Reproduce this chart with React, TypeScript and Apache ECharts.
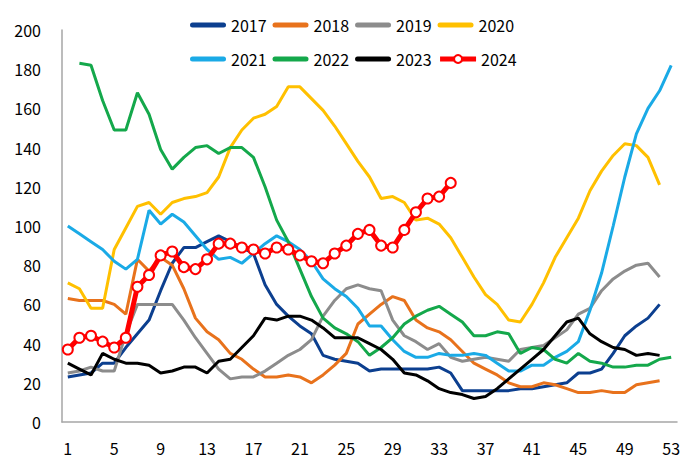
import React, { useEffect, useRef } from "react";
import * as echarts from "echarts";

const weeks = Array.from({ length: 53 }, (_, i) => String(i + 1));
const yTicks = [0, 20, 40, 60, 80, 100, 120, 140, 160, 180, 200];

const y2017 = [23, 24, 25, 30, 30, 38, 45, 52, 67, 81, 89, 89, 92, 95, 92, 89, 86, 70, 60, 54, 49, 45, 34, 32, 31, 30, 26, 27, 27, 27, 27, 27, 28, 25, 16, 16, 16, 16, 16, 17, 17, 18, 19, 20, 25, 25, 27, 35, 44, 49, 53, 60];
const y2018 = [63, 62, 62, 62, 60, 55, 83, 77, 84, 80, 68, 53, 46, 42, 35, 32, 27, 23, 23, 24, 23, 20, 24, 29, 35, 50, 55, 60, 64, 62, 52, 48, 46, 42, 36, 30, 27, 24, 20, 18, 18, 20, 19, 17, 15, 15, 16, 15, 15, 19, 20, 21];
const y2019 = [25, 26, 28, 26, 26, 45, 60, 60, 60, 60, 52, 43, 35, 27, 22, 23, 23, 26, 30, 34, 37, 42, 54, 62, 68, 70, 68, 67, 52, 44, 41, 37, 40, 33, 31, 32, 33, 32, 31, 37, 38, 39, 43, 47, 55, 58, 67, 73, 77, 80, 81, 74];
const y2020 = [71, 68, 58, 58, 88, 99, 110, 112, 106, 112, 114, 115, 117, 125, 140, 149, 155, 157, 161, 171, 171, 165, 159, 151, 142, 133, 125, 114, 115, 112, 103, 104, 101, 94, 84, 74, 65, 60, 52, 51, 60, 71, 84, 94, 104, 118, 128, 136, 142, 141, 135, 121];
const y2021 = [100, 96, 92, 88, 82, 78, 83, 108, 101, 106, 102, 95, 88, 83, 84, 81, 86, 91, 95, 92, 88, 82, 73, 68, 64, 58, 49, 49, 42, 36, 33, 33, 35, 34, 34, 35, 34, 30, 26, 26, 29, 29, 33, 36, 41, 57, 76, 100, 125, 147, 160, 169, 182];
const y2022 = [null, 183, 182, 164, 149, 149, 168, 157, 139, 129, 135, 140, 141, 137, 140, 140, 135, 120, 103, 92, 78, 64, 53, 48, 45, 41, 34, 38, 43, 50, 54, 57, 59, 55, 51, 44, 44, 46, 45, 35, 38, 37, 32, 30, 35, 31, 30, 28, 28, 29, 29, 32, 33];
const y2023 = [30, 27, 24, 35, 32, 30, 30, 29, 25, 26, 28, 28, 25, 31, 32, 38, 44, 53, 52, 54, 54, 52, 48, 43, 43, 43, 40, 37, 32, 25, 24, 21, 17, 15, 14, 12, 13, 17, 22, 27, 32, 37, 44, 51, 53, 45, 41, 38, 37, 34, 35, 34];
const y2024 = [37, 43, 44, 41, 38, 43, 69, 75, 85, 87, 79, 78, 83, 91, 91, 89, 88, 86, 89, 88, 85, 82, 81, 86, 90, 96, 98, 90, 89, 98, 107, 114, 115, 122];

const seriesNames = ["2017", "2018", "2019", "2020", "2021", "2022", "2023", "2024"];
const seriesData = [y2017, y2018, y2019, y2020, y2021, y2022, y2023, y2024];
const colors = ["#0C3F8F", "#E8721C", "#8C8C8C", "#FFC000", "#1AAAE6", "#14A84B", "#000000", "#FF0000"];

const FONT = "'Noto Sans CJK KR', 'Noto Sans', sans-serif";
const LINE_ICON = "path://M2.5,0 L33.5,0 A2.5,2.5 0 0 1 33.5,5 L2.5,5 A2.5,2.5 0 0 1 2.5,0 Z";

export default function App() {
  const ref = useRef<HTMLDivElement>(null);
  useEffect(() => {
    const chart = echarts.init(ref.current!, null, { renderer: "svg" });
    const series = seriesNames.map((name, i) => {
      const is2024 = name === "2024";
      return {
        name,
        type: "line",
        data: seriesData[i],
        symbol: is2024 ? "circle" : "none",
        symbolSize: is2024 ? 10 : 0,
        showSymbol: is2024,
        showAllSymbol: true,
        z: is2024 ? 10 : 2,
        lineStyle: { color: colors[i], width: is2024 ? 5 : 3 },
        itemStyle: is2024
          ? { color: "#FFFFFF", borderColor: colors[i], borderWidth: 2 }
          : { color: colors[i] },
      };
    });
    const legendItem = (name: string) =>
      name === "2024"
        ? { name, lineStyle: { width: 5, color: "#FF0000" }, itemStyle: { color: "#FFFFFF", borderColor: "#FF0000", borderWidth: 2 } }
        : { name, icon: LINE_ICON };
    const legendCommon = {
      left: 190,
      itemWidth: 36,
      itemHeight: 10,
      itemGap: 6,
      padding: 0,
      textStyle: { fontSize: 16, color: "#000", fontFamily: FONT },
    };
    chart.setOption({
      animation: false,
      color: colors,
      textStyle: { fontFamily: FONT },
      legend: [
        { ...legendCommon, top: 17, data: seriesNames.slice(0, 4).map(legendItem) },
        { ...legendCommon, top: 51, data: seriesNames.slice(4).map(legendItem) },
      ],
      grid: { left: 62, right: 23, top: 30, bottom: 45 },
      xAxis: {
        type: "category",
        data: weeks,
        boundaryGap: true,
        axisLine: { lineStyle: { color: "#A6A6A6", width: 1.5 } },
        axisTick: { show: false },
        axisLabel: { interval: 3, fontSize: 16, color: "#000", margin: 18, fontFamily: FONT },
        splitLine: { show: false },
      },
      yAxis: {
        type: "value",
        min: yTicks[0],
        max: yTicks[yTicks.length - 1],
        interval: 20,
        axisLine: { show: true, lineStyle: { color: "#A6A6A6", width: 1.5 } },
        axisTick: { show: false },
        axisLabel: { fontSize: 16, color: "#000", margin: 21, fontFamily: FONT },
        splitLine: { show: false },
      },
      series,
    });
    return () => chart.dispose();
  }, []);
  return (
    <div
      ref={ref}
      style={{ position: "fixed", left: 0, top: 0, width: 700, height: 467, background: "#fff" }}
    />
  );
}
